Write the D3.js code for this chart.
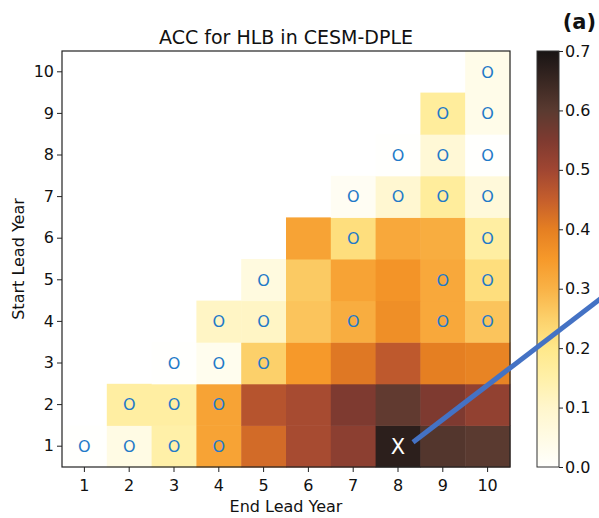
<!DOCTYPE html>
<html>
<head>
<meta charset="utf-8">
<script src="https://cdn.jsdelivr.net/npm/d3@7"></script>
<style>
  body { margin: 0; background: #fff; }
  text { font-family: "DejaVu Sans", sans-serif; fill: #111; }
</style>
</head>
<body>
<div id="container"></div>
<script>
// chart values
const endYears = [1, 2, 3, 4, 5, 6, 7, 8, 9, 10];
const startYears = [1, 2, 3, 4, 5, 6, 7, 8, 9, 10];
// ACC per start lead year (row), one value per end lead year from start..10
const accValues = [
  [0.00, 0.05, 0.15, 0.33, 0.43, 0.49, 0.53, 0.67, 0.61, 0.60],
  [0.16, 0.16, 0.33, 0.47, 0.49, 0.55, 0.59, 0.55, 0.52],
  [0.00, 0.03, 0.25, 0.35, 0.41, 0.46, 0.40, 0.39],
  [0.11, 0.11, 0.27, 0.31, 0.37, 0.32, 0.27],
  [0.06, 0.26, 0.33, 0.36, 0.32, 0.22],
  [0.33, 0.22, 0.32, 0.31, 0.16],
  [0.02, 0.09, 0.17, 0.07],
  [0.00, 0.08, 0.00],
  [0.17, 0.04],
  [0.04]
];
// significance markers, same layout as accValues
const markers = [
  ["O", "O", "O", "O", "", "", "", "X", "", ""],
  ["O", "O", "O", "", "", "", "", "", ""],
  ["O", "O", "O", "", "", "", "", ""],
  ["O", "O", "", "O", "", "O", "O"],
  ["O", "", "", "", "O", "O"],
  ["", "O", "", "", "O"],
  ["O", "O", "O", "O"],
  ["O", "O", "O"],
  ["O", "O"],
  ["O"]
];
const colorTicks = [0.0, 0.1, 0.2, 0.3, 0.4, 0.5, 0.6, 0.7];
const cmapStops = [0, 0.05, 0.1, 0.15, 0.2, 0.25, 0.3, 0.35, 0.4, 0.45, 0.5, 0.55, 0.6, 0.7];
const cmapColors = ["#fffffd", "#fffbe4", "#fff6cc", "#fff0a8", "#ffe88a", "#fcd06a",
  "#f9b246", "#f6992a", "#e57f22", "#c55e2c", "#a04632", "#7e3a30", "#5a3a30", "#181414"];

const width = 599, height = 518;
const margin = { top: 51, left: 62, right: 89, bottom: 51 };
const plotW = 510 - 62, plotH = 467 - 51;

const cells = [];
accValues.forEach((row, i) => {
  row.forEach((v, j) => {
    cells.push({ start: startYears[i], end: startYears[i] + j, value: v, mark: markers[i][j] });
  });
});

const svg = d3.select("#container").append("svg")
  .attr("width", width).attr("height", height);

const color = d3.scaleLinear().domain(cmapStops).range(cmapColors).clamp(true);
const x = d3.scaleBand().domain(endYears).range([margin.left, margin.left + plotW]);
const y = d3.scaleBand().domain(startYears).range([margin.top + plotH, margin.top]);

svg.selectAll("rect.cell")
  .data(cells)
  .join("rect")
  .attr("class", "cell")
  .attr("x", d => x(d.end))
  .attr("y", d => y(d.start))
  .attr("width", x.bandwidth() + 0.5)
  .attr("height", y.bandwidth() + 0.5)
  .attr("fill", d => color(d.value));

svg.selectAll("text.mark")
  .data(cells.filter(d => d.mark))
  .join("text")
  .attr("class", "mark")
  .attr("x", d => x(d.end) + x.bandwidth() / 2)
  .attr("y", d => y(d.start) + y.bandwidth() / 2)
  .attr("dy", "0.36em")
  .attr("text-anchor", "middle")
  .style("font-size", d => d.mark === "X" ? "21px" : "16px")
  .style("fill", d => d.mark === "X" ? "#fff" : "#1f7ac8")
  .text(d => d.mark);

// frame
svg.append("rect")
  .attr("x", margin.left).attr("y", margin.top)
  .attr("width", plotW).attr("height", plotH)
  .attr("fill", "none").attr("stroke", "#222").attr("stroke-width", 1.2);

const xAxis = d3.axisBottom(x).tickSize(5).tickSizeOuter(0);
const yAxis = d3.axisLeft(y).tickSize(5).tickSizeOuter(0);
const gx = svg.append("g").attr("transform", `translate(0,${margin.top + plotH})`).call(xAxis);
const gy = svg.append("g").attr("transform", `translate(${margin.left},0)`).call(yAxis);
[gx, gy].forEach(g => {
  g.select(".domain").remove();
  g.selectAll("line").attr("stroke", "#222");
  g.selectAll("text").style("font-size", "16px").style("font-family", "DejaVu Sans");
});
gx.selectAll("text").attr("dy", "1.0em");

// colorbar
const cbX = 537, cbW = 22;
const cScale = d3.scaleLinear().domain([0, 0.7]).range([margin.top + plotH, margin.top]);
const grad = svg.append("defs").append("linearGradient")
  .attr("id", "cbar").attr("x1", 0).attr("y1", 1).attr("x2", 0).attr("y2", 0);
grad.selectAll("stop")
  .data(cmapStops)
  .join("stop")
  .attr("offset", d => d / 0.7)
  .attr("stop-color", d => color(d));
svg.append("rect")
  .attr("x", cbX).attr("y", margin.top)
  .attr("width", cbW).attr("height", plotH)
  .attr("fill", "url(#cbar)").attr("stroke", "#333").attr("stroke-width", 1);
const cAxis = d3.axisRight(cScale).tickValues(colorTicks).tickFormat(d3.format(".1f")).tickSize(4);
const gc = svg.append("g").attr("transform", `translate(${cbX + cbW},0)`).call(cAxis);
gc.select(".domain").remove();
gc.selectAll("line").attr("stroke", "#222");
gc.selectAll("text").style("font-size", "16px").style("font-family", "DejaVu Sans").attr("x", 6);

// titles
svg.append("text")
  .attr("x", margin.left + plotW / 2).attr("y", 44)
  .attr("text-anchor", "middle").style("font-size", "19px")
  .text("ACC for HLB in CESM-DPLE");
svg.append("text")
  .attr("x", 596).attr("y", 29)
  .attr("text-anchor", "end").style("font-size", "21px").style("font-weight", "bold")
  .text("(a)");
svg.append("text")
  .attr("x", margin.left + plotW / 2).attr("y", 512)
  .attr("text-anchor", "middle").style("font-size", "16px")
  .text("End Lead Year");
svg.append("text")
  .attr("transform", `translate(24,${margin.top + plotH / 2}) rotate(-90)`)
  .attr("text-anchor", "middle").style("font-size", "16px")
  .text("Start Lead Year");

// pointer line from the X cell
const xCell = cells.find(d => d.mark === "X");
const lx0 = x(xCell.end) + x.bandwidth() / 2 + 15, ly0 = y(xCell.start) + y.bandwidth() / 2 - 4;
svg.append("line")
  .attr("x1", lx0).attr("y1", ly0)
  .attr("x2", lx0 + 200).attr("y2", ly0 - 200 * 0.765)
  .attr("stroke", "#4472c4").attr("stroke-width", 5);
</script>
</body>
</html>
